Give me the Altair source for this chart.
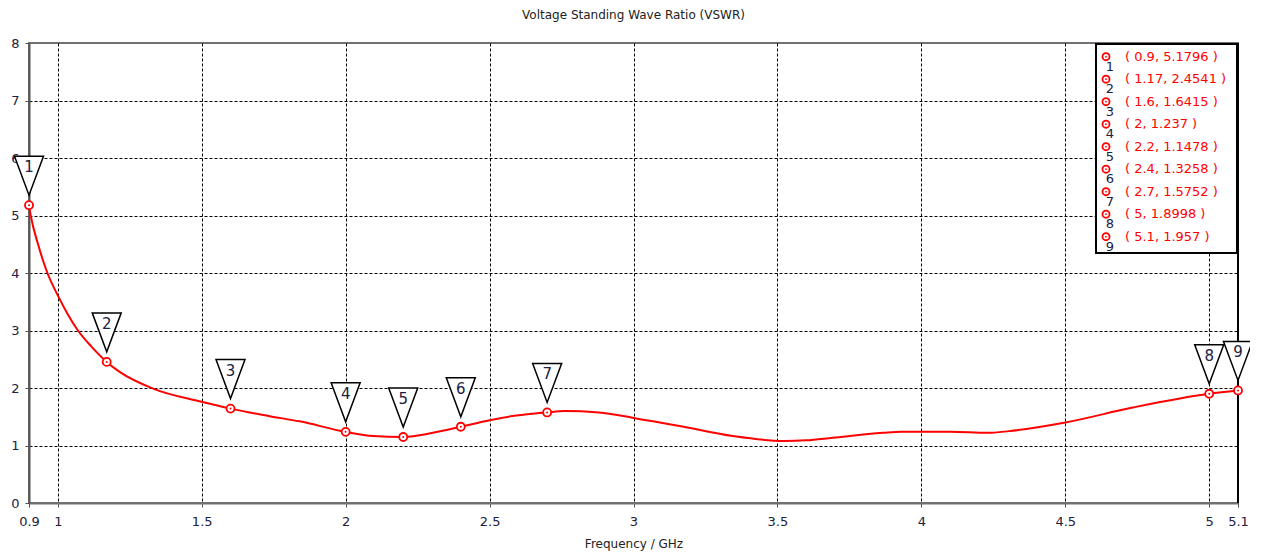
import altair as alt
import pandas as pd

# ---- data ----
freq = [0.9, 0.906, 0.932, 0.964, 1.0, 1.036, 1.07, 1.117, 1.17, 1.215, 1.331, 1.5, 1.6,
        1.736, 1.84, 2.0, 2.095, 2.2, 2.303, 2.4, 2.5, 2.593, 2.7, 2.76, 2.88, 3.0,
        3.17, 3.345, 3.52, 3.6, 3.692, 3.866, 3.93, 4.1, 4.23, 4.305, 4.5, 4.734, 5.0, 5.1]
vswr = [5.1796, 5.0, 4.49, 4.0, 3.61, 3.27, 3.0, 2.72, 2.4541, 2.28, 1.99, 1.76, 1.6415,
        1.51, 1.42, 1.237, 1.165, 1.1478, 1.22, 1.3258, 1.44, 1.52, 1.5752, 1.60, 1.575, 1.48,
        1.33, 1.165, 1.08, 1.09, 1.136, 1.22, 1.24, 1.24, 1.22, 1.25, 1.40, 1.66, 1.8998, 1.957]

marker_id = [1, 2, 3, 4, 5, 6, 7, 8, 9]
marker_freq = [0.9, 1.17, 1.6, 2, 2.2, 2.4, 2.7, 5, 5.1]
marker_vswr = [5.1796, 2.4541, 1.6415, 1.237, 1.1478, 1.3258, 1.5752, 1.8998, 1.957]

x_ticks = [0.9, 1, 1.5, 2, 2.5, 3, 3.5, 4, 4.5, 5, 5.1]
y_ticks = [0, 1, 2, 3, 4, 5, 6, 7, 8]

curve = pd.DataFrame({"freq": freq, "vswr": vswr})
marks = pd.DataFrame({
    "freq": marker_freq,
    "vswr": marker_vswr,
    "id": [str(i) for i in marker_id],
    "row": list(range(len(marker_id))),
    "label": [f"( {f:g}, {v:g} )" for f, v in zip(marker_freq, marker_vswr)],
})

FONT = "DejaVu Sans"
LABEL = "#202040"
TRI = "M-1,-3.38L1,-3.38L0,-0.69Z"

xs = alt.Scale(domain=[0.9, 5.1], nice=False, zero=False)
ys = alt.Scale(domain=[0, 8], nice=False)

x_axis = alt.Axis(
    values=x_ticks, format=".1~f", title="Frequency / GHz",
    grid=True, gridColor="#000", gridDash=[3, 2], gridWidth=1,
    gridOpacity={"condition": {"test": "datum.value < 0.95 || datum.value > 5.05", "value": 0}, "value": 1},
    domainColor="#707070", domainWidth=2, tickColor="#505050", tickSize=4,
    labelFlush=False, labelOverlap=False, labelPadding=8,
    labelFont=FONT, labelFontSize=13, labelColor=LABEL,
    titleFont=FONT, titleFontSize=12, titleFontWeight="normal", titleColor="#222", titlePadding=10,
)
y_axis = alt.Axis(
    values=y_ticks, format="d", title=None,
    grid=True, gridColor="#000", gridDash=[3, 2], gridWidth=1,
    gridOpacity={"condition": {"test": "datum.value < 0.5 || datum.value > 7.5", "value": 0}, "value": 1},
    domainColor="#555555", domainWidth=2, tickColor="#505050", tickSize=4,
    labelPadding=6, labelFont=FONT, labelFontSize=13, labelColor=LABEL,
)

X = alt.X("freq:Q", scale=xs, axis=x_axis)
Xn = alt.X("freq:Q", scale=xs)
Yn = alt.Y("vswr:Q", scale=ys)

line = alt.Chart(curve).mark_line(color="#ff0000", strokeWidth=2, interpolate="monotone").encode(
    x=X, y=alt.Y("vswr:Q", scale=ys, axis=y_axis))

right_edge = alt.Chart(curve).mark_rule(color="#000", strokeWidth=1.5).encode(x=alt.datum(5.1))

tri = alt.Chart(marks).mark_point(shape=TRI, size=841, filled=True, fill="white",
                                  stroke="black", strokeWidth=1.5, opacity=1).encode(x=Xn, y=Yn)
tri_txt = alt.Chart(marks).mark_text(dy=-38, font=FONT, fontSize=15, color=LABEL).encode(
    x=Xn, y=Yn, text="id:N")
circ = alt.Chart(marks).mark_point(shape="circle", size=64, filled=True, fill="white",
                                   stroke="#ff0000", strokeWidth=1.8, opacity=1).encode(x=Xn, y=Yn)
dot = alt.Chart(marks).mark_point(shape="circle", size=4, filled=True, color="#ff0000",
                                  opacity=1).encode(x=Xn, y=Yn)

main = alt.layer(line, right_edge, tri, tri_txt, circ, dot)

# ---- legend box (top right) ----
ls = alt.Scale(domain=[0, 8], range=[13.7, 193.7])
LY = alt.Y("row:Q", scale=ls, axis=None)
box = alt.Chart(pd.DataFrame({"a": [0]})).mark_rect(fill="white", stroke="black", strokeWidth=2).encode(
    x=alt.value(1067), x2=alt.value(1208), y=alt.value(1), y2=alt.value(210))
lcirc = alt.Chart(marks).mark_point(shape="circle", size=50, filled=True, fill="white",
                                    stroke="#ff0000", strokeWidth=1.8, opacity=1).encode(
    x=alt.value(1077), y=LY)
ldot = alt.Chart(marks).mark_point(shape="circle", size=3, filled=True, color="#ff0000",
                                   opacity=1).encode(x=alt.value(1077), y=LY)
ltxt = alt.Chart(marks).mark_text(align="left", font=FONT, fontSize=13, color="#ff0000").encode(
    x=alt.value(1096), y=LY, text="label:N")
lnum = alt.Chart(marks).mark_text(align="center", dy=10, font=FONT, fontSize=13, color=LABEL).encode(
    x=alt.value(1081), y=LY, text="id:N")
legend = alt.layer(box, lcirc, ldot, ltxt, lnum)

chart = alt.layer(main, legend).resolve_scale(y="independent").properties(
    width=1209, height=460,
    autosize="none",
    padding={"left": 21, "top": 35, "right": 12, "bottom": 60},
    title=alt.Title("Voltage Standing Wave Ratio (VSWR)", font=FONT, fontSize=12,
                    fontWeight="normal", color="#222", offset=15),
).configure_view(stroke="#707070", strokeWidth=2)

chart.save("out.html", embed_options={"renderer": "svg", "actions": False})
